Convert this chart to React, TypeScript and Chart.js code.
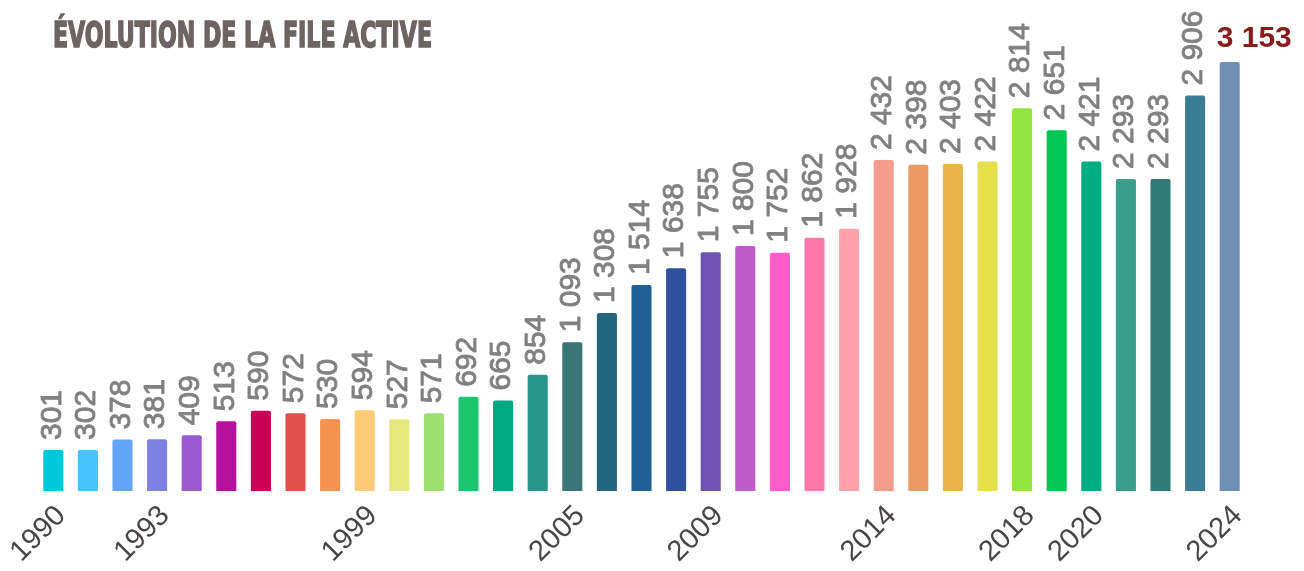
import React, { useEffect, useRef } from "react";
import { Chart, registerables } from "chart.js";

Chart.register(...registerables);

const years = [
  "1990", "1991", "1992", "1993", "1994", "1995", "1996", "1997", "1998", "1999",
  "2000", "2001", "2002", "2003", "2004", "2005", "2006", "2007", "2008", "2009",
  "2010", "2011", "2012", "2013", "2014", "2015", "2016", "2017", "2018", "2019",
  "2020", "2021", "2022", "2023", "2024",
];

const fileActive = [
  301, 302, 378, 381, 409, 513, 590, 572, 530, 594,
  527, 571, 692, 665, 854, 1093, 1308, 1514, 1638, 1755,
  1800, 1752, 1862, 1928, 2432, 2398, 2403, 2422, 2814, 2651,
  2421, 2293, 2293, 2906, 3153,
];

const shownYears = ["1990", "1993", "1999", "2005", "2009", "2014", "2018", "2020", "2024"];

const barColors = [
  "#00c8dc", "#45c3fd", "#62a4fa", "#7f80e6", "#9b59cf", "#b5109e", "#cc0055", "#e0504a", "#f79150", "#ffca76",
  "#e5e87a", "#9ce06e", "#1cc66e", "#00a984", "#26958a", "#3b7577", "#21667e", "#1d6096", "#30509e", "#7151b4",
  "#bf5bc9", "#ff5ccc", "#ff78aa", "#ffa0ab", "#f59d8d", "#eb9a63", "#e8b347", "#e5e049", "#92e541", "#00c853",
  "#00ad80", "#3a9e8c", "#307a77", "#3b7c95", "#6f90b2",
];

const titleText = "ÉVOLUTION DE LA FILE ACTIVE";

function formatValue(v: number): string {
  if (v < 1000) return String(v);
  return Math.floor(v / 1000) + " " + String(v % 1000).padStart(3, "0");
}

const valueLabels = {
  id: "valueLabels",
  afterDatasetsDraw(chart: any) {
    const meta = chart.getDatasetMeta(0);
    const ctx = chart.ctx as CanvasRenderingContext2D;
    const last = meta.data.length - 1;
    meta.data.forEach((bar: any, i: number) => {
      const text = formatValue(fileActive[i]);
      ctx.save();
      if (i === last) {
        ctx.font = 'bold 30px "Liberation Sans", Arial, sans-serif';
        ctx.fillStyle = "#8b1a1a";
        ctx.textAlign = "left";
        ctx.textBaseline = "alphabetic";
        ctx.fillText(text, bar.x - 13, bar.y - 15);
      } else {
        ctx.font = '30px "Liberation Sans", Arial, sans-serif';
        ctx.fillStyle = "#818181";
        ctx.strokeStyle = "#818181";
        ctx.lineWidth = 0.9;
        ctx.lineJoin = "round";
        ctx.translate(bar.x - 1, bar.y - 10);
        ctx.rotate(-Math.PI / 2);
        ctx.textAlign = "left";
        ctx.textBaseline = "middle";
        ctx.fillText(text, 0, 0);
        ctx.strokeText(text, 0, 0);
      }
      ctx.restore();
    });
  },
};

export default function App() {
  const canvasRef = useRef<HTMLCanvasElement | null>(null);

  useEffect(() => {
    if (!canvasRef.current) return;
    const chart = new Chart(canvasRef.current, {
      type: "bar",
      data: {
        labels: years,
        datasets: [
          {
            data: fileActive,
            backgroundColor: barColors,
            borderRadius: 2,
            borderSkipped: "bottom",
            categoryPercentage: 1,
            barPercentage: 0.58,
          },
        ],
      },
      options: {
        animation: false,
        responsive: true,
        maintainAspectRatio: false,
        layout: { padding: { left: 28, right: 49, top: 0, bottom: 0 } },
        plugins: {
          legend: { display: false },
          tooltip: { enabled: false },
          title: { display: false },
        },
        scales: {
          x: {
            grid: { display: false },
            border: { display: false },
            ticks: {
              autoSkip: false,
              minRotation: 45,
              maxRotation: 45,
              padding: 0,
              labelOffset: 8,
              color: "#4a4646",
              font: { family: '"Liberation Sans", Arial, sans-serif', size: 29 },
              callback: (_v: any, index: number) =>
                shownYears.includes(years[index]) ? years[index] : "",
            },
            afterFit: (scale: any) => {
              scale.height = 72;
              scale.paddingLeft = 0;
              scale.paddingRight = 0;
            },
          },
          y: {
            display: false,
            min: 0,
            max: 3550,
          },
        },
      },
      plugins: [valueLabels],
    });
    return () => chart.destroy();
  }, []);

  return (
    <div style={{ position: "relative", width: 1288, height: 555 }}>
      <canvas ref={canvasRef} />
      <svg
        width={420}
        height={50}
        style={{ position: "absolute", left: 44, top: 0, pointerEvents: "none" }}
      >
        <text
          x={1}
          y={39}
          textLength={379}
          lengthAdjust="spacingAndGlyphs"
          fill="#6d6462"
          stroke="#6d6462"
          strokeWidth={1.6}
          style={{ fontFamily: '"DejaVu Sans Condensed", "DejaVu Sans", sans-serif', fontWeight: 700, fontSize: 36 }}
        >
          {titleText}
        </text>
      </svg>
    </div>
  );
}
